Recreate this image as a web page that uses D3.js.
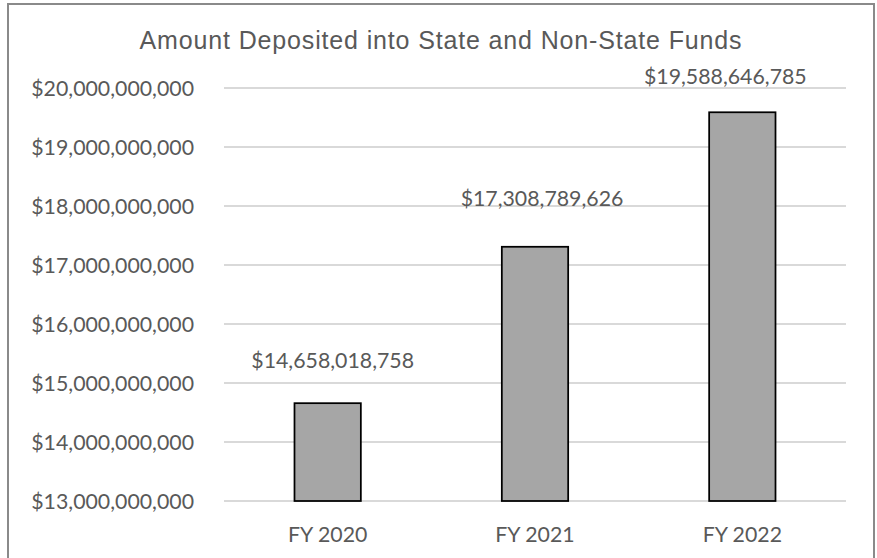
<!DOCTYPE html>
<html>
<head>
<meta charset="utf-8">
<script src="https://cdn.jsdelivr.net/npm/d3@7"></script>
<style>
  html, body { margin: 0; padding: 0; background: #fff; }
  svg { display: block; }
</style>
</head>
<body>
<svg id="chart" width="877" height="558"></svg>
<script>
// Fiscal years and amounts deposited
const categories = ["FY 2020", "FY 2021", "FY 2022"];
const amounts = [14658018758, 17308789626, 19588646785];
const yTicks = [13e9, 14e9, 15e9, 16e9, 17e9, 18e9, 19e9, 20e9];
const titleText = "Amount Deposited into State and Non-State Funds";

// Layout: manual nudges (px) for the value labels above each bar
const labelNudge = [
  { dx: 5, dy: -35 },
  { dx: 7, dy: -41 },
  { dx: -17, dy: -28 }
];

const plot = { left: 224, right: 846, top: 88, bottom: 501 };
const textColor = "#595959";
const labelFont = "Lato, 'Open Sans', sans-serif";
const labelSize = 21.3;

const svg = d3.select("#chart");

// chart frame
svg.append("rect")
  .attr("x", 8).attr("y", 4)
  .attr("width", 866).attr("height", 600)
  .attr("fill", "#fff")
  .attr("stroke", "#8a8a8a")
  .attr("stroke-width", 2);

const x = d3.scaleBand()
  .domain(categories)
  .range([plot.left, plot.right])
  .paddingInner(0.68)
  .paddingOuter(0.34);

const y = d3.scaleLinear()
  .domain([13e9, 20e9])
  .range([plot.bottom, plot.top]);

const money = v => "$" + d3.format(",.0f")(v);

// horizontal gridlines
svg.append("g")
  .selectAll("line")
  .data(yTicks)
  .join("line")
  .attr("x1", plot.left).attr("x2", plot.right)
  .attr("y1", d => y(d)).attr("y2", d => y(d))
  .attr("stroke", "#d9d9d9")
  .attr("stroke-width", 2);

// y axis labels
const yAxis = d3.axisLeft(y).tickValues(yTicks).tickFormat(money).tickSize(0).tickPadding(0);
const yg = svg.append("g")
  .attr("transform", `translate(194,0)`)
  .call(yAxis);
yg.select(".domain").remove();
yg.selectAll("text")
  .attr("fill", textColor)
  .attr("font-family", labelFont)
  .attr("font-size", labelSize)
  .attr("dy", "0.36em");

// x axis labels
const xAxis = d3.axisBottom(x).tickSize(0).tickPadding(0);
const xg = svg.append("g")
  .attr("transform", `translate(0,${plot.bottom})`)
  .call(xAxis);
xg.select(".domain").remove();
xg.selectAll("text")
  .attr("fill", textColor)
  .attr("font-family", labelFont)
  .attr("font-size", labelSize)
  .attr("dy", 0)
  .attr("y", 41);

// bars
svg.append("g")
  .selectAll("rect")
  .data(amounts)
  .join("rect")
  .attr("x", (d, i) => x(categories[i]))
  .attr("width", x.bandwidth())
  .attr("y", d => y(d))
  .attr("height", d => plot.bottom - y(d))
  .attr("fill", "#a6a6a6")
  .attr("stroke", "#000")
  .attr("stroke-width", 1.75);

// value labels
svg.append("g")
  .selectAll("text")
  .data(amounts)
  .join("text")
  .attr("x", (d, i) => x(categories[i]) + x.bandwidth() / 2 + labelNudge[i].dx)
  .attr("y", (d, i) => y(d) + labelNudge[i].dy)
  .attr("text-anchor", "middle")
  .attr("fill", textColor)
  .attr("font-family", labelFont)
  .attr("font-size", labelSize)
  .text(d => money(d));

// title
svg.append("text")
  .attr("x", 441)
  .attr("y", 49)
  .attr("text-anchor", "middle")
  .attr("fill", textColor)
  .attr("font-family", "'Liberation Sans', Arial, sans-serif")
  .attr("font-size", 25)
  .attr("letter-spacing", 0.85)
  .text(titleText);
</script>
</body>
</html>
